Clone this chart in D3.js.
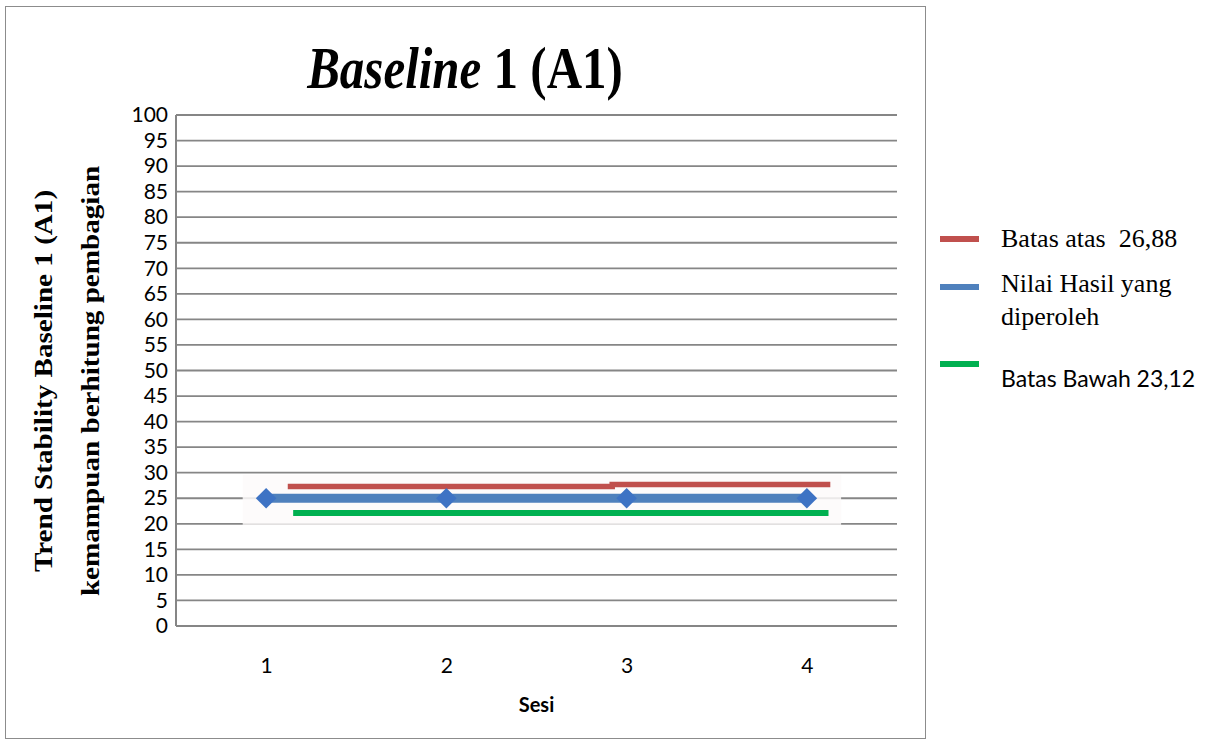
<!DOCTYPE html>
<html>
<head>
<meta charset="utf-8">
<script src="https://cdn.jsdelivr.net/npm/d3@7"></script>
<style>
  html, body { margin: 0; padding: 0; background: #fff; }
  svg { display: block; }
</style>
</head>
<body>
<svg id="chart" width="1222" height="744"></svg>
<script>
// ---- data ----
const sessions = [1, 2, 3, 4];
const nilaiHasil = [25, 25, 25, 25];
const yTicks = d3.range(0, 101, 5);
// hand-drawn limit lines (x in session units, y in score units)
const batasAtasX = [1.12, 2.92, 2.92, 4.13];
const batasAtasY = [27.3, 27.3, 27.7, 27.7];
const batasBawahX = [1.15, 4.12];
const batasBawahY = [22.1, 22.1];
const glowX = [0.87, 4.19];
const glowY = [19.8, 29.6];
const legendLabels = ["Batas atas  26,88", "Nilai Hasil yang", "diperoleh", "Batas Bawah 23,12"];
const titleParts = ["Baseline", " 1 (A1)"];
const yTitleLines = ["Trend Stability Baseline 1 (A1)", "kemampuan berhitung pembagian"];
const xTitle = "Sesi";

const colors = { red: "#C0504D", blue: "#4F81BD", green: "#00B050", grid: "#868686" };
const serif = "'Liberation Serif', 'Times New Roman', Times, serif";
const sans = "Lato, 'Open Sans', sans-serif";

const svg = d3.select("#chart");

// outer border
svg.append("rect").attr("x", 5.5).attr("y", 6.5).attr("width", 920).attr("height", 732)
  .attr("fill", "none").attr("stroke", "#8c8c8c").attr("stroke-width", 1);

const x = d3.scaleLinear().domain([0.5, 4.5]).range([176, 897]);
const y = d3.scaleLinear().domain([0, 100]).range([626, 115]);

// gridlines
svg.append("g").selectAll("line").data(yTicks).join("line")
  .attr("x1", x(0.5)).attr("x2", x(4.5))
  .attr("y1", d => y(d)).attr("y2", d => y(d))
  .attr("stroke", colors.grid).attr("stroke-width", 1.8);

// y axis line
svg.append("line").attr("x1", x(0.5)).attr("x2", x(0.5)).attr("y1", y(100)).attr("y2", y(0))
  .attr("stroke", colors.grid).attr("stroke-width", 2);

// y axis tick labels
const yAxis = d3.axisLeft(y).tickValues(yTicks).tickSize(0).tickPadding(8);
const gy = svg.append("g").attr("transform", `translate(${x(0.5)},0)`).call(yAxis);
gy.select(".domain").remove();
gy.selectAll("text").attr("font-family", sans)
  .attr("font-size", 21).attr("fill", "#000");

// x axis tick labels
const xAxis = d3.axisBottom(x).tickValues(sessions).tickFormat(d3.format("d"))
  .tickSize(0).tickPadding(32);
const gx = svg.append("g").attr("transform", `translate(0,${y(0)})`).call(xAxis);
gx.select(".domain").remove();
gx.selectAll("text").attr("font-family", sans)
  .attr("font-size", 21).attr("fill", "#000");

// glow box behind hand-drawn lines
svg.append("rect").attr("x", x(glowX[0])).attr("width", x(glowX[1]) - x(glowX[0]))
  .attr("y", y(glowY[1])).attr("height", y(glowY[0]) - y(glowY[1]))
  .attr("fill", "#fdfafa").attr("opacity", 0.85);

const line = d3.line().x(d => x(d[0])).y(d => y(d[1]));

// red upper limit
svg.append("path").datum(batasAtasX.map((v, i) => [v, batasAtasY[i]]))
  .attr("d", line).attr("fill", "none").attr("stroke", colors.red).attr("stroke-width", 5.5);

// green lower limit
svg.append("path").datum(batasBawahX.map((v, i) => [v, batasBawahY[i]]))
  .attr("d", line).attr("fill", "none").attr("stroke", colors.green).attr("stroke-width", 6);

// blue data line
svg.append("path").datum(sessions.map((s, i) => [s, nilaiHasil[i]]))
  .attr("d", line).attr("fill", "none").attr("stroke", colors.blue).attr("stroke-width", 9);

// diamond markers
svg.append("g").selectAll("path").data(sessions.map((s, i) => [s, nilaiHasil[i]])).join("path")
  .attr("transform", d => `translate(${x(d[0])},${y(d[1])})`)
  .attr("d", d3.symbol().type(d3.symbolDiamond2).size(270))
  .attr("fill", "#3E73C4");

// title (slightly stretched vertically like the reference)
const title = svg.append("text").attr("transform", "translate(465,88) scale(1,1.2)")
  .attr("text-anchor", "middle")
  .attr("font-family", serif)
  .attr("font-weight", "bold").attr("font-size", 49).attr("fill", "#000");
title.append("tspan").attr("font-style", "italic").text(titleParts[0]);
title.append("tspan").text(titleParts[1]);

// y title (two lines, rotated)
[43, 90].forEach((cx, i) => {
  svg.append("text").attr("transform", `translate(${cx},381) rotate(-90) scale(1.12,1)`)
    .attr("text-anchor", "middle").attr("dy", "0.35em")
    .attr("font-family", serif)
    .attr("font-weight", "bold").attr("font-size", 26).attr("fill", "#000")
    .text(yTitleLines[i]);
});

// x title
svg.append("text").attr("x", x(2.5)).attr("y", 712).attr("text-anchor", "middle")
  .attr("font-family", sans).attr("font-weight", "bold")
  .attr("font-size", 20).attr("fill", "#000").text(xTitle);

// legend
const legendItems = [
  { color: colors.red, iconY: 239 },
  { color: colors.blue, iconY: 287 },
  { color: colors.green, iconY: 364 }
];
svg.append("g").selectAll("line").data(legendItems).join("line")
  .attr("x1", 940).attr("x2", 979).attr("y1", d => d.iconY).attr("y2", d => d.iconY)
  .attr("stroke", d => d.color).attr("stroke-width", 6);

const legendText = [
  { t: legendLabels[0], y: 247, f: serif, s: 26 },
  { t: legendLabels[1], y: 292, f: serif, s: 26 },
  { t: legendLabels[2], y: 325, f: serif, s: 26 },
  { t: legendLabels[3], y: 387, f: sans, s: 23 }
];
svg.append("g").selectAll("text").data(legendText).join("text")
  .attr("x", 1001).attr("y", d => d.y)
  .attr("font-family", d => d.f).attr("font-size", d => d.s)
  .attr("fill", "#000").style("white-space", "pre")
  .text(d => d.t);
</script>
</body>
</html>
